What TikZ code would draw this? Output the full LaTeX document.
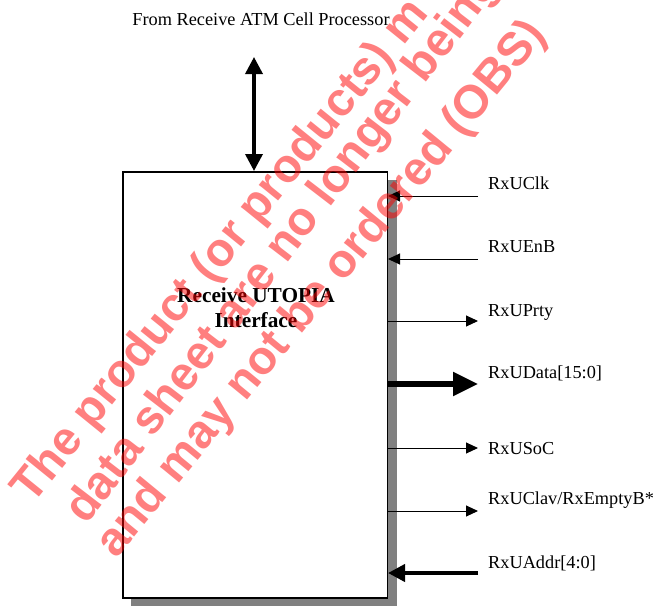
\documentclass[tikz,border=0pt]{standalone}
\usepackage{fontspec}
\setmainfont{Liberation Serif}
\newfontfamily\wmfont{Liberation Sans}
\usetikzlibrary{arrows.meta}
\definecolor{shadowgray}{HTML}{808080}
\begin{document}
\begin{tikzpicture}[x=1pt,y=-1pt,
  lbl/.style={anchor=base west, inner sep=0pt, font=\fontsize{18.3}{21}\selectfont},
  title/.style={align=center, inner sep=0pt, font=\fontsize{21.3}{25}\selectfont\bfseries},
  blockbox/.style={draw, fill=white, line width=1.5pt, inner sep=0pt, anchor=north west,
    minimum width=264.5pt, minimum height=426pt},
  thinsig/.style={line width=1pt, -{Triangle[length=12pt,width=11pt]}},
  busout/.style={line width=5.5pt, -{Triangle[length=25pt,width=23pt]}},
  busin/.style={line width=4pt, -{Triangle[length=17pt,width=17pt]}},
  bidir/.style={line width=3.5pt, {Triangle[length=17pt,width=17pt]}-{Triangle[length=17pt,width=17pt]}},
  wm/.style={anchor=base west, inner sep=0pt, text=red, text opacity=0.5,
    font=\wmfont\bfseries\fontsize{47}{50}\selectfont}
]
\clip (0,0) rectangle (655,605);
% shadow
\fill[shadowgray] (131,180) rectangle (397,606);
% main block
\node[blockbox] (box) at (122,171) {};
\node[title] (ttl) at (256,307.3) {Receive UTOPIA\\Interface};
% top source
\node[lbl, anchor=base] (src) at (261,25) {From Receive ATM Cell Processor};
\coordinate (topend) at (254,57);
\draw[bidir] (topend) -- (box.north -| topend);
% signal end points
\coordinate (e1) at (478,196);
\coordinate (e2) at (478,259);
\coordinate (e3) at (478,321);
\coordinate (e4) at (478,384);
\coordinate (e5) at (478,448);
\coordinate (e6) at (478,511);
\coordinate (e7) at (478,573);
% connectors
\draw[thinsig] (e1) -- (box.east |- e1);
\draw[thinsig] (e2) -- (box.east |- e2);
\draw[thinsig] (box.east |- e3) -- (e3);
\draw[busout] (box.east |- e4) -- (e4);
\draw[thinsig] (box.east |- e5) -- (e5);
\draw[thinsig] (box.east |- e6) -- (e6);
\draw[busin] (e7) -- (box.east |- e7);
% labels
\node[lbl] (l1) at (488,189) {RxUClk};
\node[lbl] (l2) at (488,252) {RxUEnB};
\node[lbl] (l3) at (488,316) {RxUPrty};
\node[lbl] (l4) at (488,378) {RxUData[15:0]};
\node[lbl] (l5) at (488,454) {RxUSoC};
\node[lbl] (l6) at (488,504) {RxUClav/RxEmptyB*};
\node[lbl] (l7) at (488,568) {RxUAddr[4:0]};
% watermark
\node[wm, rotate=51] (w1) at (32,505.5) {The product (or products) m};
\node[wm, rotate=52.5] (w2) at (86,526) {data sheet are no longer being};
\node[wm, rotate=50.6] (w3) at (116,560) {and may not be ordered (OBS)};
\end{tikzpicture}
\end{document}
